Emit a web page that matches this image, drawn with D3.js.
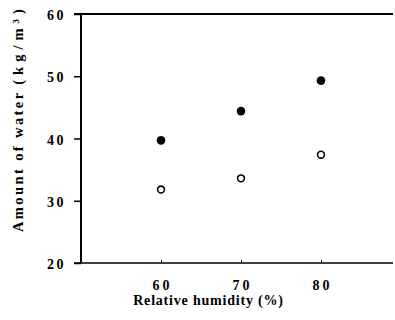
<!DOCTYPE html>
<html>
<head>
<meta charset="utf-8">
<script src="https://cdn.jsdelivr.net/npm/d3@7"></script>
<style>
  body { margin: 0; background: #fff; }
  text { font-family: "Liberation Serif", "DejaVu Serif", serif; font-weight: bold; fill: #000; }
</style>
</head>
<body>
<div class="chart"></div>
<script>
const humidity = [60, 70, 80];
const filledValues = [39.7, 44.4, 49.3];
const openValues = [31.8, 33.6, 37.4];
const yTicks = [20, 30, 40, 50, 60];

const margin = { top: 14, left: 81, right: 2, bottom: 57 };
const width = 395 - margin.left - margin.right;
const height = 320 - margin.top - margin.bottom;

const svg = d3.select(".chart")
  .append("svg")
  .attr("width", 395)
  .attr("height", 320)
  .append("g")
  .attr("transform", `translate(${margin.left}, ${margin.top})`);

const xScale = d3.scaleLinear().domain([50, 89]).range([0, width]);
const yScale = d3.scaleLinear().domain([20, 60]).range([height, 0]);

// frame: left, top, bottom
svg.append("line").attr("x1", 0).attr("x2", 0).attr("y1", 0).attr("y2", height)
  .attr("stroke", "#000").attr("stroke-width", 2);
svg.append("line").attr("x1", -7).attr("x2", width).attr("y1", 0).attr("y2", 0)
  .attr("stroke", "#000").attr("stroke-width", 2);
svg.append("line").attr("x1", -7).attr("x2", width).attr("y1", height).attr("y2", height)
  .attr("stroke", "#000").attr("stroke-width", 1.5);

const yAxis = d3.axisLeft(yScale).tickValues(yTicks).tickSize(7).tickPadding(8);
svg.append("g").attr("class", "axis y-axis").call(yAxis)
  .call(g => g.select(".domain").remove())
  .call(g => g.selectAll("line").attr("stroke-width", 1.5))
  .call(g => g.selectAll("text").attr("font-size", "14px").attr("letter-spacing", "2.5px")
    .attr("dy", "0.4em")
    .style("font-family", "Liberation Serif").style("font-weight", "bold"));

const xAxis = d3.axisTop(xScale).tickValues(humidity).tickSize(3).tickFormat("");
svg.append("g").attr("class", "axis x-axis")
  .attr("transform", `translate(0, ${height})`)
  .call(xAxis)
  .call(g => g.select(".domain").remove());

svg.append("g").selectAll("text")
  .data(humidity)
  .join("text")
  .attr("x", d => xScale(d) + 1.5)
  .attr("y", height + 27)
  .attr("text-anchor", "middle")
  .attr("font-size", "14px")
  .attr("letter-spacing", "3px")
  .text(d => d);

svg.append("text")
  .attr("x", 208.5 - margin.left)
  .attr("y", height + 42)
  .attr("text-anchor", "middle")
  .attr("font-size", "14px")
  .attr("letter-spacing", "0.8px")
  .text("Relative humidity (%)");

const yTitle = svg.append("text")
  .attr("transform", `translate(${-58}, ${height - 31}) rotate(-90)`)
  .attr("text-anchor", "start")
  .attr("font-size", "14.5px")
  .attr("letter-spacing", "2.4px");
yTitle.append("tspan").text("Amount of water ");
yTitle.append("tspan").attr("letter-spacing", "5px").text("(kg/m³)");

svg.append("g").selectAll("circle")
  .data(humidity.map((h, i) => ({ h, v: filledValues[i] })))
  .join("circle")
  .attr("cx", d => xScale(d.h))
  .attr("cy", d => yScale(d.v))
  .attr("r", 4.3)
  .attr("fill", "#000");

svg.append("g").selectAll("circle")
  .data(humidity.map((h, i) => ({ h, v: openValues[i] })))
  .join("circle")
  .attr("cx", d => xScale(d.h))
  .attr("cy", d => yScale(d.v))
  .attr("r", 3.4)
  .attr("fill", "#fff")
  .attr("stroke", "#000")
  .attr("stroke-width", 1.6);
</script>
</body>
</html>
